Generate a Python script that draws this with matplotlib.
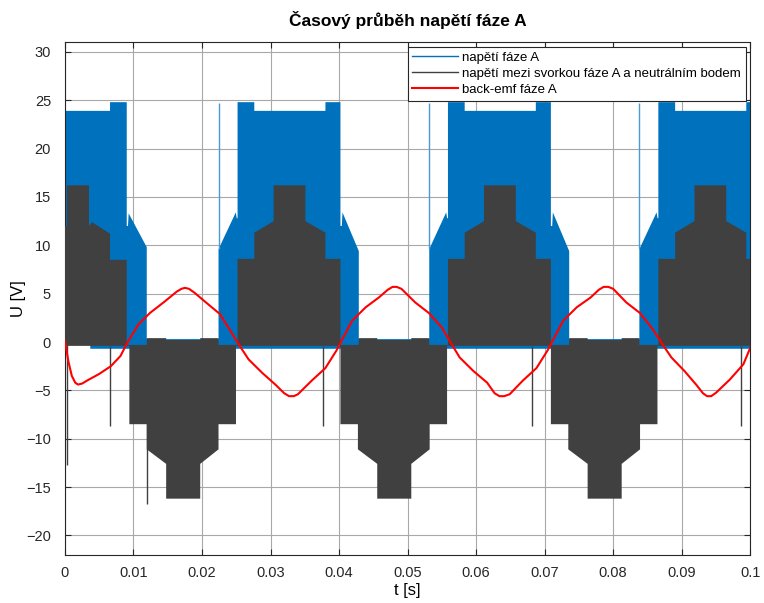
import numpy as np
import matplotlib
matplotlib.use('Agg')
import matplotlib.pyplot as plt
from matplotlib.lines import Line2D

plt.rcParams['font.family'] = ['Liberation Sans', 'DejaVu Sans']

# envelope of the PWM phase voltage (blue)
blue_top_t = [0, 0.00658, 0.00658, 0.00902, 0.00902, 0.0092, 0.0093, 0.01194, 0.01194,
              0.02241, 0.02241, 0.02493, 0.02507, 0.02519, 0.02519, 0.02763, 0.02763,
              0.03801, 0.03801, 0.0402, 0.0402, 0.0404, 0.0405, 0.04288, 0.04288,
              0.05316, 0.05316, 0.05563, 0.05577, 0.05589, 0.05589, 0.05833, 0.05833,
              0.06871, 0.06871, 0.07091, 0.07091, 0.0711, 0.0712, 0.07358, 0.07358,
              0.08382, 0.08382, 0.08633, 0.08647, 0.08659, 0.08659, 0.08904, 0.08904,
              0.09942, 0.09942, 0.1]
blue_top_u = [23.9, 23.9, 24.8, 24.8, 12.0, 12.0, 13.3, 9.8, 0.3,
              0.3, 9.6, 13.4, 12.8, 12.8, 24.8, 24.8, 23.9,
              23.9, 24.8, 24.8, 12.0, 12.0, 13.4, 9.4, 0.3,
              0.3, 9.6, 13.4, 12.8, 12.8, 24.8, 24.8, 23.9,
              23.9, 24.8, 24.8, 12.0, 12.0, 13.4, 9.4, 0.3,
              0.3, 9.6, 13.4, 12.8, 12.8, 24.8, 24.8, 23.9,
              23.9, 24.8, 24.8]
blue_bot_t = [0, 0.0037, 0.0037, 0.1]
blue_bot_u = [-0.3, -0.3, -0.7, -0.7]

# envelope of the phase-to-neutral voltage (dark grey)
gray_top_t = [0, 0.00029, 0.00029, 0.00351, 0.00351, 0.00395, 0.00658, 0.00658, 0.00902,
              0.00902, 0.01194, 0.01194, 0.01477, 0.01477, 0.01974, 0.01974, 0.02241,
              0.02241, 0.02519, 0.02519, 0.02763, 0.02763, 0.03045, 0.03045, 0.03509,
              0.03509, 0.03801, 0.03801, 0.0402, 0.0402, 0.04288, 0.04288, 0.04557,
              0.04557, 0.05054, 0.05054, 0.05316, 0.05316, 0.05589, 0.05589, 0.05833,
              0.05833, 0.06115, 0.06115, 0.06579, 0.06579, 0.06871, 0.06871, 0.07091,
              0.07091, 0.07358, 0.07358, 0.07627, 0.07627, 0.08124, 0.08124, 0.08382,
              0.08382, 0.08659, 0.08659, 0.08904, 0.08904, 0.09186, 0.09186, 0.09649,
              0.09649, 0.09942, 0.09942, 0.1]
gray_top_u = [12.0, 12.0, 16.2, 16.2, 12.0, 12.4, 11.2, 8.5, 8.5,
              -0.3, -0.3, 0.4, 0.4, 0.2, 0.2, 0.4, 0.4,
              -0.3, -0.3, 8.6, 8.6, 11.3, 12.5, 16.2, 16.2,
              12.5, 11.3, 8.6, 8.6, -0.3, -0.3, 0.4, 0.4,
              0.2, 0.2, 0.4, 0.4, -0.3, -0.3, 8.6, 8.6,
              11.3, 12.5, 16.2, 16.2, 12.5, 11.3, 8.6, 8.6,
              -0.3, -0.3, 0.4, 0.4, 0.2, 0.2, 0.4, 0.4,
              -0.3, -0.3, 8.6, 8.6, 11.3, 12.5, 16.2, 16.2,
              12.5, 11.3, 8.6, 8.6]
gray_bot_t = [0, 0.0094, 0.0094, 0.01194, 0.01194, 0.01477, 0.01477, 0.01974, 0.01974,
              0.02241, 0.02241, 0.02496, 0.02496, 0.0402, 0.0402, 0.04275, 0.04275,
              0.04557, 0.04557, 0.05054, 0.05054, 0.05322, 0.05322, 0.05576, 0.05576,
              0.07091, 0.07091, 0.07345, 0.07345, 0.07627, 0.07627, 0.08124, 0.08124,
              0.08392, 0.08392, 0.08646, 0.08646, 0.1]
gray_bot_u = [-0.4, -0.4, -8.5, -8.5, -11.1, -12.6, -16.2, -16.2, -12.6,
              -11.1, -8.5, -8.5, -0.4, -0.4, -8.5, -8.5, -11.1,
              -12.6, -16.2, -16.2, -12.6, -11.1, -8.5, -8.5, -0.4,
              -0.4, -8.5, -8.5, -11.1, -12.6, -16.2, -16.2, -12.6,
              -11.1, -8.5, -8.5, -0.4, -0.4]

# single switching spikes
gray_spike_t = [0.0003, 0.00658, 0.01203, 0.0376, 0.0681, 0.0987]
gray_spike_lo = [-12.7, -8.7, -16.8, -8.7, -8.7, -8.7]
gray_spike_hi = [12.0, -0.4, -0.3, -0.4, -0.4, -0.4]
blue_spike_t = [0.02241, 0.05316, 0.08382]
blue_spike_lo = [9.6, 9.6, 9.6]
blue_spike_hi = [24.7, 24.7, 24.7]

# back-emf (red)
emf_t = [0, 0.0005, 0.001, 0.0015, 0.0019, 0.0025, 0.0032, 0.005, 0.0067, 0.0081, 0.0091,
         0.0107, 0.0124, 0.0144, 0.0163, 0.0170, 0.0175, 0.0181, 0.0189, 0.0209, 0.0226,
         0.0242, 0.0255, 0.0268, 0.0288, 0.0307, 0.0320, 0.0327, 0.0334, 0.034, 0.036,
         0.038, 0.0396, 0.0406, 0.0419, 0.0439, 0.0458, 0.0471, 0.0478, 0.0484, 0.0491,
         0.0511, 0.0531, 0.055, 0.0563, 0.0576, 0.0596, 0.0616, 0.0627, 0.0634, 0.0641,
         0.0649, 0.0668, 0.0688, 0.0704, 0.0714, 0.0727, 0.0747, 0.0767, 0.0779, 0.0786,
         0.0793, 0.08, 0.0819, 0.0839, 0.0858, 0.0872, 0.0885, 0.0904, 0.0921, 0.0931,
         0.0937, 0.0943, 0.095, 0.097, 0.099, 0.1]
emf_u = [0.1, -2.0, -3.5, -4.2, -4.4, -4.3, -4.0, -3.3, -2.5, -1.45, -0.07,
         1.8, 3.0, 4.1, 5.2, 5.5, 5.6, 5.5, 5.1, 3.9, 2.9,
         1.1, -0.4, -1.8, -3.2, -4.4, -5.3, -5.6, -5.6, -5.4, -4.0,
         -2.7, -0.9, 0.45, 2.2, 3.6, 4.6, 5.4, 5.7, 5.7, 5.5,
         4.1, 3.0, 1.5, -0.07, -1.6, -3.0, -4.2, -5.3, -5.6, -5.6,
         -5.4, -4.0, -2.7, -0.9, 0.45, 2.2, 3.6, 4.6, 5.4, 5.7,
         5.7, 5.5, 4.1, 3.0, 1.3, -0.25, -1.6, -3.0, -4.4, -5.3,
         -5.6, -5.6, -5.25, -3.9, -2.3, -0.6]

blue = '#0072BD'
gray = '#404040'

fig = plt.figure(figsize=(7.64, 6.03), dpi=100)
ax = fig.add_axes([0.085, 0.080, 0.897, 0.850])

# PWM bands drawn as filled envelopes
ax.fill(np.r_[blue_top_t, blue_bot_t[::-1]], np.r_[blue_top_u, blue_bot_u[::-1]],
        color=blue, linewidth=0, zorder=2)
ax.vlines(blue_spike_t, blue_spike_lo, blue_spike_hi, color='#4a9ad4', linewidth=1, zorder=2)
ax.fill(np.r_[gray_top_t, gray_bot_t[::-1]], np.r_[gray_top_u, gray_bot_u[::-1]],
        color=gray, linewidth=0, zorder=3)
ax.vlines(gray_spike_t, gray_spike_lo, gray_spike_hi, color=gray, linewidth=1, zorder=3)
ax.plot(emf_t, emf_u, color='red', linewidth=1.5, zorder=4)

ax.set_xlim(0, 0.1)
ax.set_ylim(-22, 31)
ax.set_xticks(np.arange(0, 0.1001, 0.01))
ax.set_xticklabels(['0', '0.01', '0.02', '0.03', '0.04', '0.05', '0.06', '0.07', '0.08', '0.09', '0.1'])
ax.set_yticks(np.arange(-20, 31, 5))
ax.tick_params(direction='in', top=True, right=True, labelsize=10.5, length=4, colors='#262626')
ax.tick_params(axis='x', pad=8)
ax.tick_params(axis='y', pad=10)
ax.grid(True, color='#a8a8a8', linewidth=0.8)
ax.set_axisbelow(True)
for sp in ax.spines.values():
    sp.set_color('#262626')
    sp.set_linewidth(0.8)

ax.set_title('Časový průběh napětí fáze A', fontsize=12.5, fontweight='bold', pad=12)
ax.set_xlabel('t [s]', fontsize=12, labelpad=2)
ax.set_ylabel('U [V]', fontsize=12, labelpad=0)

handles = [Line2D([], [], color=blue, linewidth=1),
           Line2D([], [], color=gray, linewidth=1),
           Line2D([], [], color='red', linewidth=1.5)]
labels = ['napětí fáze A', 'napětí mezi svorkou fáze A a neutrálním bodem', 'back-emf fáze A']
leg = ax.legend(handles, labels, loc='upper right', fontsize=9.5, handlelength=3.5,
                fancybox=False, framealpha=1, edgecolor='#262626', borderaxespad=0.35,
                borderpad=0.35, labelspacing=0.3, handletextpad=0.3)
leg.get_frame().set_linewidth(0.8)
leg.set_zorder(10)

fig.savefig('out.png', dpi=100)
